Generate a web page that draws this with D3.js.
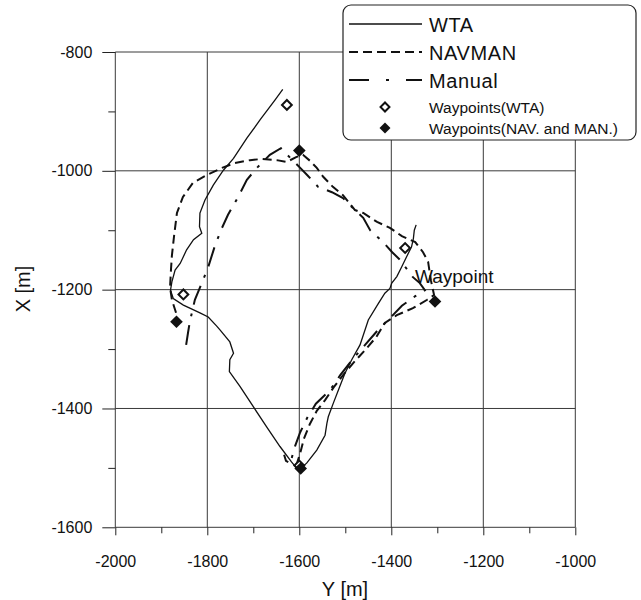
<!DOCTYPE html>
<html>
<head>
<meta charset="utf-8">
<script src="https://cdn.jsdelivr.net/npm/d3@7"></script>
<style>
  body { margin: 0; background: #fff; }
  text { font-family: "Liberation Sans", Arial, sans-serif; fill: #111; }
</style>
</head>
<body>
<div id="chart"></div>
<script>
// horizontal axis = Y [m], vertical axis = X [m]; points are [Y, X]
var yTicks = [-2000, -1800, -1600, -1400, -1200, -1000];
var xTicks = [-800, -1000, -1200, -1400, -1600];
var yMinor = [-1900, -1700, -1500, -1300, -1100];
var xMinor = [-900, -1100, -1300, -1500];

var wta = [[-1636,-863],[-1653,-881],[-1685,-914],[-1714,-945],[-1743,-979],[-1765,-999],
  [-1787,-1024],[-1805,-1049],[-1816,-1071],[-1817,-1094],[-1812,-1105],[-1830,-1116],
  [-1845,-1133],[-1859,-1156],[-1870,-1167],[-1877,-1187],[-1880,-1201],[-1874,-1215],
  [-1852,-1226],[-1838,-1231],[-1816,-1239],[-1798,-1246],[-1780,-1261],[-1772,-1268],
  [-1751,-1288],[-1743,-1307],[-1751,-1318],[-1752,-1338],[-1729,-1363],[-1700,-1397],
  [-1671,-1431],[-1642,-1464],[-1617,-1490],[-1602,-1504],[-1584,-1492],[-1562,-1470],
  [-1544,-1445],[-1540,-1425],[-1537,-1414],[-1526,-1391],[-1512,-1363],[-1501,-1341],
  [-1486,-1318],[-1468,-1293],[-1450,-1251],[-1428,-1223],[-1414,-1206],[-1403,-1198],
  [-1399,-1189],[-1388,-1178],[-1377,-1161],[-1367,-1145],[-1356,-1128],[-1352,-1114],
  [-1350,-1100],[-1346,-1091]];

var navman = [[-1868,-1239],[-1877,-1217],[-1881,-1196],[-1879,-1167],[-1877,-1143],
  [-1872,-1108],[-1866,-1071],[-1853,-1044],[-1831,-1020],[-1801,-1007],[-1768,-995],
  [-1740,-987],[-1707,-982],[-1681,-980],[-1649,-982],[-1627,-985],[-1607,-977],
  [-1592,-973],[-1577,-983],[-1562,-995],[-1548,-1010],[-1527,-1027],[-1505,-1041],
  [-1479,-1066],[-1461,-1071],[-1431,-1086],[-1403,-1096],[-1377,-1110],[-1348,-1120],
  [-1331,-1137],[-1320,-1153],[-1314,-1184],[-1307,-1209],[-1322,-1217],[-1353,-1231],
  [-1388,-1243],[-1414,-1256],[-1433,-1280],[-1455,-1300],[-1481,-1322],[-1501,-1340],
  [-1525,-1364],[-1544,-1386],[-1562,-1404],[-1577,-1426],[-1590,-1451],[-1598,-1475],
  [-1607,-1497]];

var manual = [[-1846,-1293],[-1842,-1273],[-1838,-1254],[-1827,-1217],[-1812,-1189],
  [-1798,-1162],[-1783,-1125],[-1768,-1096],[-1755,-1074],[-1733,-1044],[-1714,-1015],
  [-1692,-995],[-1664,-973],[-1640,-962],[-1620,-978],[-1598,-995],[-1583,-1007],
  [-1559,-1027],[-1529,-1036],[-1505,-1046],[-1479,-1066],[-1461,-1079],[-1446,-1100],
  [-1418,-1120],[-1398,-1137],[-1381,-1150],[-1353,-1179],[-1338,-1189],[-1327,-1201],
  [-1348,-1211],[-1377,-1227],[-1403,-1248],[-1429,-1268],[-1457,-1293],[-1485,-1318],
  [-1511,-1344],[-1533,-1369],[-1564,-1392],[-1583,-1416],[-1598,-1440],[-1609,-1463],
  [-1616,-1482],[-1618,-1493],[-1629,-1488],[-1633,-1478]];

var waypointsWta = [[-1627,-889],[-1370,-1130],[-1852,-1208],[-1600,-1496]];
var waypointsNav = [[-1600,-966],[-1305,-1220],[-1867,-1254],[-1597,-1501]];

var legendItems = ["WTA", "NAVMAN", "Manual", "Waypoints(WTA)", "Waypoints(NAV. and MAN.)"];

var W = 641, H = 600;
var svg = d3.select("#chart").append("svg").attr("width", W).attr("height", H);

var x = d3.scaleLinear().domain([-2000, -1000]).range([115.3, 575.3]);
var y = d3.scaleLinear().domain([-800, -1600]).range([52, 527.3]);

var grid = svg.append("g").attr("stroke", "#3a3a3a").attr("stroke-width", 1);
grid.selectAll(".gv").data(yTicks).enter().append("line")
  .attr("x1", function(d){ return x(d); }).attr("x2", function(d){ return x(d); })
  .attr("y1", y(-800)).attr("y2", y(-1600));
grid.selectAll(".gh").data(xTicks).enter().append("line")
  .attr("y1", function(d){ return y(d); }).attr("y2", function(d){ return y(d); })
  .attr("x1", x(-2000)).attr("x2", x(-1000));

// axes
var bottom = svg.append("g").attr("transform", "translate(0," + y(-1600) + ")")
  .call(d3.axisBottom(x).tickValues(yTicks).tickSize(8).tickPadding(20).tickFormat(function(d){ return String(d); }));
bottom.append("g").call(d3.axisBottom(x).tickValues(yMinor).tickSize(6).tickFormat(""));
var left = svg.append("g").attr("transform", "translate(" + x(-2000) + ",0)")
  .call(d3.axisLeft(y).tickValues(xTicks).tickSize(13).tickPadding(10).tickFormat(function(d){ return String(d); }));
left.append("g").call(d3.axisLeft(y).tickValues(xMinor).tickSize(7).tickFormat(""));
svg.selectAll(".domain").remove();
svg.selectAll(".tick line").attr("stroke", "#222");
svg.selectAll(".tick text").attr("font-size", 16).attr("font-family", "Liberation Sans, Arial").attr("fill", "#111");

svg.append("text").attr("x", 345).attr("y", 596).attr("text-anchor", "middle")
  .attr("font-size", 20).text("Y [m]");
svg.append("text").attr("transform", "translate(30,289) rotate(-90)").attr("text-anchor", "middle")
  .attr("font-size", 20).text("X [m]");

// trajectories
var line = d3.line().x(function(d){ return x(d[0]); }).y(function(d){ return y(d[1]); });
svg.append("path").datum(wta).attr("d", line).attr("fill", "none")
  .attr("stroke", "#111").attr("stroke-width", 1.3);
svg.append("path").datum(navman).attr("d", line).attr("fill", "none")
  .attr("stroke", "#111").attr("stroke-width", 2).attr("stroke-dasharray", "9,5");
svg.append("path").datum(manual).attr("d", line).attr("fill", "none")
  .attr("stroke", "#111").attr("stroke-width", 2).attr("stroke-dasharray", "20,9,3,9");

// waypoints
var sq = d3.symbol().type(d3.symbolSquare);
svg.selectAll(".wpw").data(waypointsWta).enter().append("path")
  .attr("d", sq.size(48)())
  .attr("transform", function(d){ return "translate(" + x(d[0]) + "," + y(d[1]) + ") rotate(45)"; })
  .attr("fill", "#fff").attr("stroke", "#111").attr("stroke-width", 2);
svg.selectAll(".wpn").data(waypointsNav).enter().append("path")
  .attr("d", sq.size(80)())
  .attr("transform", function(d){ return "translate(" + x(d[0]) + "," + y(d[1]) + ") rotate(45)"; })
  .attr("fill", "#111");

svg.append("text").attr("x", 415).attr("y", 283).attr("font-size", 19)
  .attr("font-family", "Open Sans, sans-serif").text("Waypoint");

// legend
var lg = svg.append("g");
lg.append("rect").attr("x", 343).attr("y", 5).attr("width", 293).attr("height", 135)
  .attr("rx", 8).attr("fill", "#fff").attr("stroke", "#222").attr("stroke-width", 1.2);
var rowY = [24, 52, 80, 107, 128];
var dashes = [null, "9,5", "20,17,3,17"];
for (var i = 0; i < 3; i++) {
  lg.append("line").attr("x1", 349).attr("x2", 422).attr("y1", rowY[i]).attr("y2", rowY[i])
    .attr("stroke", "#111").attr("stroke-width", i === 0 ? 1.5 : 2)
    .attr("stroke-dasharray", dashes[i]);
}
lg.append("path").attr("d", sq.size(40)()).attr("transform", "translate(385," + rowY[3] + ") rotate(45)")
  .attr("fill", "#fff").attr("stroke", "#111").attr("stroke-width", 2);
lg.append("path").attr("d", sq.size(60)()).attr("transform", "translate(385," + rowY[4] + ") rotate(45)")
  .attr("fill", "#111");
lg.selectAll(".lt").data(legendItems).enter().append("text")
  .attr("x", 429).attr("y", function(d, i){ return rowY[i] + (i < 3 ? 7.5 : 5.5); })
  .attr("font-size", function(d, i){ return i < 3 ? 20 : 15.5; })
  .attr("letter-spacing", function(d, i){ return i < 3 ? 0.6 : 0; })
  .text(function(d){ return d; });
</script>
</body>
</html>
